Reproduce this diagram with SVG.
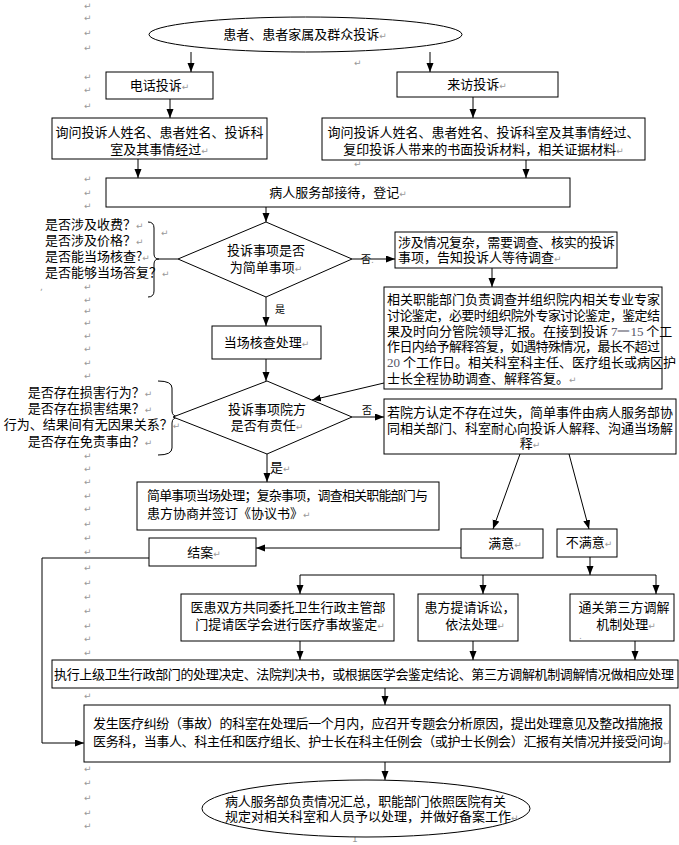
<svg xmlns="http://www.w3.org/2000/svg" width="679" height="845" viewBox="0 0 679 845">
<defs>
<marker id="ah" markerUnits="userSpaceOnUse" markerWidth="10" markerHeight="8" refX="9" refY="3.5" orient="auto">
<path d="M0,0 L9,3.5 L0,7 z" fill="#000"/>
</marker>
<style>
.b{fill:#fff;stroke:#000;stroke-width:1}
.t{font-family:"Noto Sans CJK SC","Noto Sans",sans-serif;font-size:13px;fill:#000}
.m{text-anchor:middle}
.s{font-size:10px}
.c{fill:none;stroke:#000;stroke-width:1}
.a{fill:none;stroke:#000;stroke-width:1;marker-end:url(#ah)}
.p{fill:#999;font-family:"DejaVu Sans",sans-serif;font-size:9px}
.n{font-family:"Liberation Serif",serif;fill:#556}
</style>
</defs>
<rect width="679" height="845" fill="#fff"/>

<g id="paragraph-marks" class="p">
<text x="84" y="9">↵</text><text x="84" y="21">↵</text><text x="84" y="36">↵</text><text x="84" y="51">↵</text>
<text x="84" y="80">↵</text><text x="84" y="93">↵</text><text x="84" y="109">↵</text>
<text x="354" y="66">↵</text><text x="354" y="167">↵</text>
<text x="84" y="182">↵</text><text x="84" y="196">↵</text><text x="84" y="209">↵</text>
<text x="84" y="290">↵</text><text x="84" y="303">↵</text><text x="84" y="314">↵</text><text x="84" y="326">↵</text><text x="84" y="339">↵</text><text x="84" y="352">↵</text><text x="84" y="366">↵</text><text x="84" y="379">↵</text>
<text x="84" y="459">↵</text><text x="84" y="472">↵</text><text x="84" y="485">↵</text><text x="84" y="499">↵</text><text x="84" y="512">↵</text><text x="84" y="527">↵</text><text x="84" y="541">↵</text><text x="84" y="555">↵</text>
<text x="84" y="571">↵</text><text x="84" y="586">↵</text><text x="84" y="600">↵</text><text x="84" y="614">↵</text><text x="84" y="629">↵</text><text x="84" y="642">↵</text><text x="84" y="656">↵</text>
<text x="84" y="699">↵</text><text x="84" y="772">↵</text><text x="84" y="786">↵</text><text x="84" y="801">↵</text><text x="84" y="816">↵</text><text x="84" y="829">↵</text>
<text x="352" y="842">1</text>
</g>

<g id="connectors">
<line class="a" x1="191" y1="52" x2="191" y2="72"/>
<line class="a" x1="430" y1="52" x2="430" y2="72"/>
<line class="a" x1="170" y1="99" x2="170" y2="118"/>
<line class="a" x1="473" y1="97" x2="473" y2="118"/>
<line class="a" x1="138" y1="159" x2="138" y2="178"/>
<line class="a" x1="526" y1="160" x2="526" y2="178"/>
<line class="a" x1="266" y1="207" x2="266" y2="222"/>
<line class="a" x1="352" y1="259" x2="395" y2="259"/>
<line class="a" x1="492" y1="268" x2="492" y2="287"/>
<line class="a" x1="266" y1="297" x2="266" y2="326"/>
<line class="a" x1="266" y1="359" x2="266" y2="381"/>
<line class="a" x1="384" y1="383" x2="312" y2="400"/>
<line class="a" x1="352" y1="417" x2="384" y2="417"/>
<line class="a" x1="267" y1="454" x2="267" y2="482"/>
<line class="a" x1="520" y1="454" x2="493" y2="529"/>
<line class="a" x1="569" y1="454" x2="589" y2="529"/>
<line class="a" x1="461" y1="548" x2="256" y2="548"/>
<polyline class="a" points="149,558 42,558 42,743 84,743"/>
<line class="a" x1="590" y1="557" x2="590" y2="575"/>
<line class="c" x1="300" y1="575" x2="656" y2="575"/>
<line class="a" x1="300" y1="575" x2="300" y2="594"/>
<line class="a" x1="483" y1="575" x2="483" y2="594"/>
<line class="a" x1="656" y1="575" x2="656" y2="594"/>
<line class="a" x1="300" y1="641" x2="300" y2="660"/>
<line class="a" x1="473" y1="641" x2="473" y2="660"/>
<line class="a" x1="635" y1="641" x2="635" y2="660"/>
<line class="a" x1="385" y1="688" x2="385" y2="705"/>
<line class="a" x1="385" y1="762" x2="385" y2="780"/>
<path class="c" d="M148,222 Q154,222 154,228 L154,254 Q154,259 159,259 Q154,259 154,264 L154,291 Q154,297 148,297"/>
<line class="c" x1="159" y1="259" x2="178" y2="259"/>
<path class="c" d="M158,381 Q172,381 172,388 L172,411 Q172,417 180,417 Q172,417 172,423 L172,448 Q172,455 158,455"/>
</g>

<g id="start">
<ellipse class="b" cx="305.5" cy="34.5" rx="156.5" ry="17.5"/>
<text class="t m" x="305" y="39">患者、患者家属及群众投诉<tspan class="p">↵</tspan></text>
</g>
<g id="phone">
<rect class="b" x="106" y="72" width="107" height="27"/>
<text class="t m" x="159.5" y="90">电话投诉<tspan class="p">↵</tspan></text>
</g>
<g id="visit">
<rect class="b" x="397" y="72" width="161" height="25"/>
<text class="t m" x="477" y="89">来访投诉<tspan class="p">↵</tspan></text>
</g>
<g id="phone-ask">
<rect class="b" x="52" y="118" width="215" height="41"/>
<text class="t m" x="159.5" y="136.5">询问投诉人姓名、患者姓名、投诉科</text>
<text class="t m" x="159.5" y="153.5">室及其事情经过<tspan class="p">↵</tspan></text>
</g>
<g id="visit-ask">
<rect class="b" x="322" y="118" width="323" height="42"/>
<text class="t m" x="483.5" y="136.5">询问投诉人姓名、患者姓名、投诉科室及其事情经过、</text>
<text class="t m" x="483.5" y="153.5">复印投诉人带来的书面投诉材料，相关证据材料<tspan class="p">↵</tspan></text>
</g>
<g id="register">
<rect class="b" x="106" y="178" width="464" height="29"/>
<text class="t m" x="338" y="197">病人服务部接待，登记<tspan class="p">↵</tspan></text>
</g>
<g id="q1-notes">
<text class="t" x="45" y="229">是否涉及收费？<tspan class="p">↵</tspan></text>
<text class="t" x="45" y="245">是否涉及价格？<tspan class="p">↵</tspan></text>
<text class="t" x="45" y="261">是否能当场核查?<tspan class="p">↵</tspan></text>
<text class="t" x="45" y="277">是否能够当场答复？<tspan class="p">↵</tspan></text>
<text class="p" x="161" y="236">↵</text>
<text class="p" x="40" y="290">,</text>
</g>
<g id="q1">
<polygon class="b" points="266,222 352,259 266,297 178,259"/>
<text class="t m" x="266" y="255">投诉事项是否</text>
<text class="t m" x="266" y="272">为简单事项<tspan class="p">↵</tspan></text>
<text class="t s" x="361" y="263">否<tspan class="p">.</tspan></text>
<text class="t s" x="275" y="313">是</text>
</g>
<g id="complex">
<rect class="b" x="395" y="232" width="222" height="36"/>
<text class="t" x="398" y="246.5" textLength="217">涉及情况复杂，需要调查、核实的投诉</text>
<text class="t" x="398" y="261.5">事项，告知投诉人等待调查<tspan class="p">↵</tspan></text>
</g>
<g id="investigate">
<rect class="b" x="384" y="287" width="278" height="102"/>
<text class="t" x="387" y="303.5" textLength="273">相关职能部门负责调查并组织院内相关专业专家</text>
<text class="t" x="387" y="319.5" textLength="273">讨论鉴定，必要时组织院外专家讨论鉴定，鉴定结</text>
<text class="t" x="387" y="335.5">果及时向分管院领导汇报。在接到投诉 <tspan class="n">7一15</tspan> 个工</text>
<text class="t" x="387" y="351" textLength="273">作日内给予解释答复，如遇特殊情况，最长不超过</text>
<text class="t" x="387" y="367"><tspan class="n">20</tspan> 个工作日。相关科室科主任、医疗组长或病区护</text>
<text class="t" x="387" y="382.5">士长全程协助调查、解释答复。<tspan class="p">↵</tspan></text>
</g>
<g id="onsite">
<rect class="b" x="212" y="326" width="109" height="33"/>
<text class="t m" x="266.5" y="347">当场核查处理<tspan class="p">↵</tspan></text>
</g>
<g id="q2-notes">
<text class="t m" x="90" y="396.5">是否存在损害行为？<tspan class="p">↵</tspan></text>
<text class="t m" x="90" y="412.5">是否存在损害结果？<tspan class="p">↵</tspan></text>
<text class="t m" x="92" y="428.5">行为、结果间有无因果关系？<tspan class="p">↵</tspan></text>
<text class="t m" x="90" y="446">是否存在免责事由？<tspan class="p">↵</tspan></text>
</g>
<g id="q2">
<polygon class="b" points="267,381 352,417 267,454 173,417"/>
<text class="t m" x="267" y="413.5">投诉事项院方</text>
<text class="t m" x="267" y="429.5">是否有责任<tspan class="p">↵</tspan></text>
<text class="t s" x="362" y="414">否</text>
<text class="t" x="270" y="472">是<tspan class="p">↵</tspan></text>
</g>
<g id="no-fault">
<rect class="b" x="384" y="399" width="292" height="55"/>
<text class="t m" x="530" y="416.5">若院方认定不存在过失，简单事件由病人服务部协</text>
<text class="t m" x="530" y="432.5">同相关部门、科室耐心向投诉人解释、沟通当场解</text>
<text class="t m" x="530" y="447.5">释<tspan class="p">↵</tspan></text>
</g>
<g id="agreement">
<rect class="b" x="137" y="482" width="302" height="48"/>
<text class="t" x="147" y="499.5" textLength="281">简单事项当场处理；复杂事项，调查相关职能部门与</text>
<text class="t" x="147" y="517.5">患方协商并签订《协议书》<tspan class="p">↵</tspan></text>
</g>
<g id="satisfied">
<rect class="b" x="461" y="529" width="82" height="29"/>
<text class="t m" x="505" y="548">满意<tspan class="p">↵</tspan></text>
</g>
<g id="unsatisfied">
<rect class="b" x="557" y="529" width="60" height="28"/>
<text class="t m" x="589" y="547">不满意<tspan class="p">↵</tspan></text>
</g>
<g id="close">
<rect class="b" x="149" y="538" width="107" height="28"/>
<text class="t m" x="204" y="556.5">结案<tspan class="p">↵</tspan></text>
</g>
<g id="appraisal">
<rect class="b" x="181" y="594" width="213" height="47"/>
<text class="t m" x="288" y="611.5">医患双方共同委托卫生行政主管部</text>
<text class="t m" x="290" y="628.5">门提请医学会进行医疗事故鉴定<tspan class="p">↵</tspan></text>
</g>
<g id="lawsuit">
<rect class="b" x="418" y="594" width="100" height="47"/>
<text class="t m" x="470" y="611.5">患方提请诉讼，</text>
<text class="t m" x="475" y="628.5">依法处理<tspan class="p">↵</tspan></text>
</g>
<g id="mediation">
<rect class="b" x="570" y="594" width="104" height="47"/>
<text class="t m" x="624" y="611.5">通关第三方调解</text>
<text class="t m" x="626" y="628.5">机制处理<tspan class="p">↵</tspan></text>
<text class="p" x="579" y="639">.</text>
</g>
<g id="execute">
<rect class="b" x="52" y="660" width="626" height="28"/>
<text class="t" x="54" y="678.5" textLength="620">执行上级卫生行政部门的处理决定、法院判决书，或根据医学会鉴定结论、第三方调解机制调解情况做相应处理</text>
</g>
<g id="review">
<rect class="b" x="84" y="705" width="586" height="57"/>
<text class="t" x="93" y="727.5" textLength="570">发生医疗纠纷（事故）的科室在处理后一个月内，应召开专题会分析原因，提出处理意见及整改措施报</text>
<text class="t" x="93" y="745.5" textLength="570">医务科，当事人、科主任和医疗组长、护士长在科主任例会（或护士长例会）汇报有关情况并接受问询</text>
<text class="p" x="663" y="745.5">↵</text>
</g>
<g id="end">
<ellipse class="b" cx="366" cy="808.5" rx="164" ry="28.5"/>
<text class="t" x="225" y="806" textLength="281">病人服务部负责情况汇总，职能部门依照医院有关</text>
<text class="t" x="225" y="820.5">规定对相关科室和人员予以处理，并做好备案工作<tspan class="p">↵</tspan></text>
</g>
</svg>
